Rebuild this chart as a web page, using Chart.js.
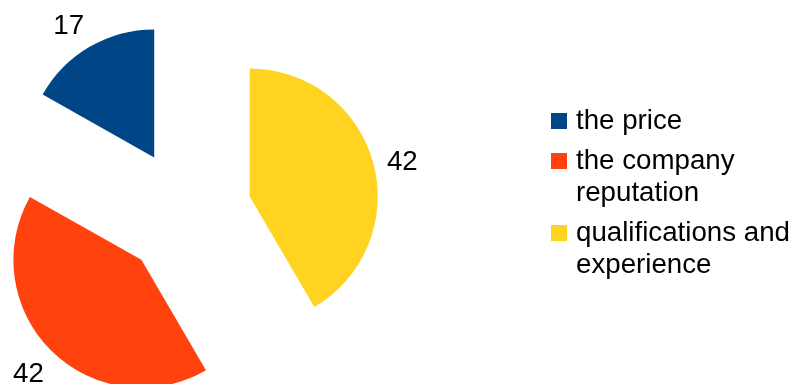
<!DOCTYPE html>
<html>
<head>
<meta charset="utf-8">
<script src="https://cdn.jsdelivr.net/npm/chart.js@4/dist/chart.umd.min.js"></script>
<style>
  html, body { margin: 0; padding: 0; background: #ffffff; }
  #wrap { width: 796px; height: 384px; position: relative; }
</style>
</head>
<body>
<div id="wrap"><canvas id="chart"></canvas></div>
<script>
// Survey answers: what matters most when choosing a company
const categories = ['the price', 'the company reputation', 'qualifications and experience'];
const legendLines = [['the price'], ['the company', 'reputation'], ['qualifications and', 'experience']];
const values = [17, 42, 42];
const colors = ['#004586', '#ff420e', '#ffd320'];

const FONT = "'Liberation Sans', Arial, sans-serif";
const FONT_SIZE = 27.7;
const EXPLODE = 65;   // distance each slice is pulled out from the centre
const RADIUS = 128;

// Slices are laid out counter-clockwise from 12 o'clock, so feed them reversed
const order = values.map((_, i) => values.length - 1 - i);

// Pull each slice outward along its bisector
const explodePlugin = {
  id: 'explode',
  afterDatasetsUpdate(chart) {
    chart.getDatasetMeta(0).data.forEach(arc => {
      const mid = (arc.startAngle + arc.endAngle) / 2;
      arc.x += Math.cos(mid) * EXPLODE;
      arc.y += Math.sin(mid) * EXPLODE;
    });
  }
};

// Value labels just outside each slice
const valueLabels = {
  id: 'valueLabels',
  afterDatasetsDraw(chart) {
    const ctx = chart.ctx;
    const ds = chart.data.datasets[0];
    const capH = FONT_SIZE * 0.716;
    ctx.save();
    ctx.font = FONT_SIZE + 'px ' + FONT;
    ctx.fillStyle = '#000000';
    ctx.textBaseline = 'alphabetic';
    chart.getDatasetMeta(0).data.forEach((arc, i) => {
      const mid = (arc.startAngle + arc.endAngle) / 2;
      const ux = Math.cos(mid), uy = Math.sin(mid);
      const ax = arc.x + ux * (arc.outerRadius + 11);
      const ay = arc.y + uy * (arc.outerRadius + 11);
      let x = ax, y;
      if (ux > 0.38) { ctx.textAlign = 'left'; x = ax + 3; }
      else if (ux < -0.38) { ctx.textAlign = 'right'; x = ax; }
      else { ctx.textAlign = 'center'; }
      if (uy > 0.38) y = ay + 3 + capH;
      else if (uy < -0.38) y = ay - 3;
      else y = ay + capH / 2;
      ctx.fillText(String(ds.data[i]), x, y);
    });
    ctx.restore();
  }
};

// Legend on the right with wrapped entries
const sideLegend = {
  id: 'sideLegend',
  afterDraw(chart) {
    const ctx = chart.ctx;
    const boxX = 551, textX = 576, box = 16;
    const lineH = 32, itemGap = 40;
    let base = 129;
    ctx.save();
    ctx.font = FONT_SIZE + 'px ' + FONT;
    ctx.textAlign = 'left';
    ctx.textBaseline = 'alphabetic';
    categories.forEach((_, i) => {
      ctx.fillStyle = colors[i];
      ctx.fillRect(boxX, base - box, box, box);
      ctx.fillStyle = '#000000';
      legendLines[i].forEach((line, k) => {
        ctx.fillText(line, textX, base + k * lineH);
      });
      base += (legendLines[i].length - 1) * lineH + itemGap;
    });
    ctx.restore();
  }
};

new Chart(document.getElementById('chart'), {
  type: 'pie',
  data: {
    labels: order.map(i => categories[i]),
    datasets: [{
      data: order.map(i => values[i]),
      backgroundColor: order.map(i => colors[i]),
      borderWidth: 0,
      clip: false
    }]
  },
  options: {
    responsive: true,
    maintainAspectRatio: false,
    animation: false,
    events: [],
    radius: RADIUS,
    rotation: 0,
    layout: { padding: { left: 0, top: 43, right: 422, bottom: 0 } },
    plugins: {
      legend: { display: false },
      tooltip: { enabled: false }
    }
  },
  plugins: [explodePlugin, valueLabels, sideLegend]
});
</script>
</body>
</html>
